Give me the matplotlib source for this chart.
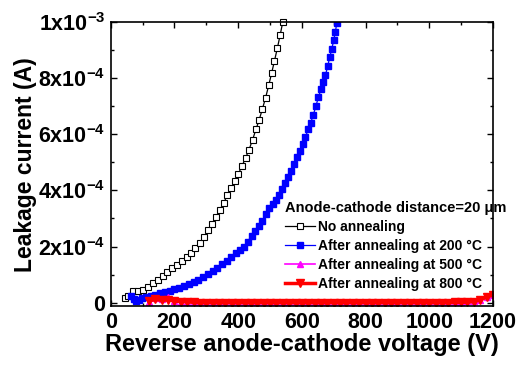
import numpy as np
import matplotlib
matplotlib.use('Agg')
from matplotlib import pyplot as plt
from matplotlib.ticker import MultipleLocator, FuncFormatter

plt.rcParams['font.family'] = ['Liberation Sans', 'DejaVu Sans']
plt.rcParams['font.weight'] = 'bold'
plt.rcParams['mathtext.fontset'] = 'custom'
plt.rcParams['mathtext.rm'] = 'Liberation Sans:bold'
plt.rcParams['mathtext.it'] = 'Liberation Sans:bold'
plt.rcParams['mathtext.bf'] = 'Liberation Sans:bold'

# leakage current in uA vs reverse voltage in V
v_none = [45, 55, 70, 85, 100, 117, 133, 148, 163, 178, 193, 208, 223, 238, 252,
          266, 280, 293, 306, 318, 330, 342, 354, 366, 378, 390, 401, 412, 423,
          434, 445, 456, 466, 476, 486, 496, 505, 514, 523, 532, 540]
i_none = [18, 22, 40, 40, 46, 56, 70, 82, 95, 108, 122, 136, 150, 162, 178,
          196, 214, 233, 258, 282, 305, 330, 355, 382, 408, 435, 460, 487, 515,
          545, 580, 618, 652, 690, 730, 775, 818, 862, 907, 955, 1000]

v_200 = [65, 72, 80, 88, 97, 110, 125, 140, 155, 170, 185, 200, 215, 230, 245,
         260, 275, 290, 305, 320, 335, 350, 364, 378, 392, 405, 418, 430, 442,
         454, 465, 476, 487, 498, 508, 518, 528, 538, 548, 557, 566, 575, 584,
         593, 602, 611, 620, 628, 636, 644, 652, 660, 667, 674, 681, 688, 694,
         700, 705, 710]
i_200 = [22, 12, 6, 10, 16, 20, 24, 28, 33, 38, 43, 48, 54, 60, 66,
         74, 82, 91, 101, 112, 124, 137, 150, 163, 176, 189, 200, 218, 238,
         255, 272, 292, 316, 336, 352, 365, 385, 405, 425, 447, 468, 494, 518,
         540, 565, 590, 618, 642, 670, 700, 733, 760, 785, 810, 843, 877, 905,
         935, 965, 998]

v_hot = [120, 140, 160, 180, 200, 220, 240, 260, 280, 300, 320, 340, 360, 380,
         400, 420, 440, 460, 480, 500, 520, 540, 560, 580, 600, 620, 640, 660,
         680, 700, 720, 740, 760, 780, 800, 820, 840, 860, 880, 900, 920, 940,
         960, 980, 1000, 1020, 1040, 1060, 1080, 1100, 1120, 1140, 1160, 1180, 1200]
i_500 = [4, 18, 14, 20, 7, 4, 3, 3, 3, 4, 3, 3, 4, 3,
         3, 4, 3, 3, 4, 3, 3, 4, 3, 3, 4, 3, 3, 4,
         3, 3, 4, 3, 3, 4, 3, 3, 4, 3, 3, 4, 3, 3,
         4, 3, 3, 4, 3, 4, 4, 4, 5, 7, 11, 19, 28]
i_800 = [6, 12, 8, 10, 6, 4, 3, 1, 0, 0, 0, 0, 0, 0,
         0, 0, 0, 0, 0, 0, 0, 0, 0, 0, 0, 0, 0, 0,
         0, 0, 0, 0, 0, 0, 0, 0, 0, 0, 0, 0, 0, 0,
         0, 0, 0, 0, 0, 0, 1, 1, 2, 4, 10, 20, 28]

to_amp = 1e-6

fig = plt.figure(figsize=(5.25, 3.68), dpi=100)
ax = fig.add_axes([0.211, 0.168, 0.728, 0.772])

ax.plot(v_none, np.array(i_none) * to_amp, color='black', lw=0.9, marker='s',
        ms=4.5, mfc='white', mec='black', mew=0.8, label='No annealing', clip_on=False)
ax.plot(v_200, np.array(i_200) * to_amp, color='blue', lw=0.9, marker='s',
        ms=5, mfc='blue', mec='blue', label='After annealing at 200 \u00b0C')
ax.plot(v_hot, np.array(i_500) * to_amp, color='magenta', lw=1.2, marker='^',
        ms=5, mfc='magenta', mec='magenta', label='After annealing at 500 \u00b0C')
ax.plot(v_hot, np.array(i_800) * to_amp, color='red', lw=2.5, marker='v',
        ms=5.5, mfc='red', mec='red', label='After annealing at 800 \u00b0C')

ax.set_xlim(0, 1200)
ax.set_ylim(-1.25e-5, 1e-3)
ax.xaxis.set_major_locator(MultipleLocator(200))
ax.xaxis.set_minor_locator(MultipleLocator(100))
ax.yaxis.set_major_locator(MultipleLocator(2e-4))
ax.yaxis.set_minor_locator(MultipleLocator(1e-4))


def sci_label(val, pos):
    if abs(val) < 1e-12:
        return '0'
    exp = int(np.floor(np.log10(abs(val)) + 1e-9))
    mant = val / 10 ** exp
    return '%dx10$^{%d}$' % (round(mant), exp)


ax.yaxis.set_major_formatter(FuncFormatter(sci_label))
ax.tick_params(which='both', direction='in', top=True, right=True, width=1)
ax.tick_params(which='major', length=4, labelsize=15.5, pad=4)
ax.tick_params(which='minor', length=2.5)
for sp in ax.spines.values():
    sp.set_linewidth(1.2)

ax.set_xlabel('Reverse anode-cathode voltage (V)', fontsize=17, fontweight='bold', labelpad=0)
ax.set_ylabel('Leakage current (A)', fontsize=16.5, fontweight='bold', labelpad=1)

leg = ax.legend(loc='upper left', bbox_to_anchor=(0.455, 0.37), frameon=False,
                title='Anode-cathode distance=20 \u03bcm', alignment='left',
                fontsize=10, title_fontproperties={'size': 10.5, 'weight': 'bold'},
                handlelength=2.2, handletextpad=0.2, labelspacing=0.36,
                borderpad=0, borderaxespad=0)

fig.savefig('out.png', dpi=100)
